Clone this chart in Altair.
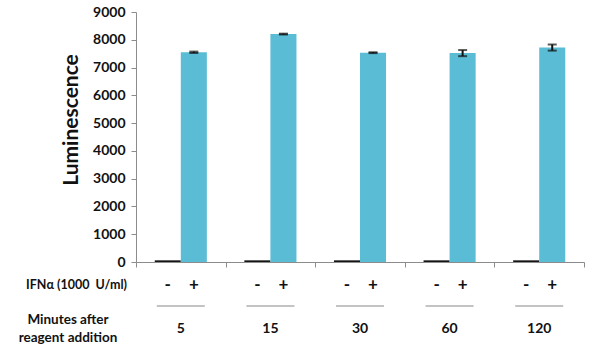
import altair as alt
import pandas as pd

minutes = ["5", "15", "30", "60", "120"]
treatments = ["-", "+"]
minus_vals = [60, 60, 60, 60, 60]
plus_vals = [7550, 8205, 7535, 7520, 7720]
plus_err = [25, 15, 15, 110, 110]
y_ticks = [0, 1000, 2000, 3000, 4000, 5000, 6000, 7000, 8000, 9000]

rows = []
for i, m in enumerate(minutes):
    rows.append({"minutes": m, "trt": "-", "value": minus_vals[i], "err": 0})
    rows.append({"minutes": m, "trt": "+", "value": plus_vals[i], "err": plus_err[i]})
df = pd.DataFrame(rows)
df["lo"] = df["value"] - df["err"]
df["hi"] = df["value"] + df["err"]
err_df = df[df["trt"] == "+"]
grp_df = pd.DataFrame({"minutes": minutes})

FONT = "Lato"

x_axis = alt.Axis(labels=False, title=None, tickBand="extent", tickSize=5,
                  domainColor="#8c8c8c", tickColor="#8c8c8c")
y_axis = alt.Axis(values=y_ticks, format="d", labelOverlap=False, title=None,
                  grid=False, tickSize=5, tickCount=10,
                  labelFont=FONT, labelFontWeight="bold", labelFontSize=14,
                  labelColor="#111", labelPadding=6,
                  domainColor="#8c8c8c", tickColor="#8c8c8c")
x_scale = alt.Scale(paddingInner=0, paddingOuter=0)
y_scale = alt.Scale(domain=[0, 9000], nice=False)


def xe():
    return alt.X("minutes:N", sort=minutes, scale=x_scale, axis=x_axis)


xo_enc = alt.XOffset("trt:N", sort=treatments,
                     scale=alt.Scale(domain=treatments, paddingInner=0, paddingOuter=0.72))

bars = alt.Chart(df).mark_bar().encode(
    x=xe(),
    xOffset=xo_enc,
    y=alt.Y("value:Q", scale=y_scale, axis=y_axis),
    color=alt.Color("trt:N", scale=alt.Scale(domain=treatments, range=["#151515", "#5bbdd5"]),
                    legend=None),
)

err_rule = alt.Chart(err_df).mark_rule(color="#111", strokeWidth=2).encode(
    x=xe(), xOffset=xo_enc,
    y=alt.Y("lo:Q", scale=y_scale, axis=y_axis), y2="hi:Q")
cap_lo = alt.Chart(err_df).mark_tick(color="#111", size=9, thickness=2).encode(
    x=xe(), xOffset=xo_enc, y=alt.Y("lo:Q", scale=y_scale, axis=y_axis))
cap_hi = alt.Chart(err_df).mark_tick(color="#111", size=9, thickness=2).encode(
    x=xe(), xOffset=xo_enc, y=alt.Y("hi:Q", scale=y_scale, axis=y_axis))

signs = alt.Chart(df).mark_text(font=FONT, fontWeight="bold", fontSize=17, color="#111",
                                baseline="middle").encode(
    x=xe(), xOffset=xo_enc, y=alt.value(273), text="trt:N")

lines = alt.Chart(grp_df).mark_tick(orient="horizontal", size=48, thickness=1,
                                    color="#555").encode(
    x=xe(), y=alt.value(294))

nums = alt.Chart(grp_df).mark_text(font=FONT, fontWeight="bold", fontSize=14, color="#111",
                                   baseline="middle").encode(
    x=xe(), y=alt.value(317), text="minutes:N")

ytitle = alt.Chart(pd.DataFrame({"t": ["Luminescence"]})).mark_text(
    font=FONT, fontWeight="bold", fontSize=21, angle=270, color="#111",
    baseline="middle", align="center").encode(
    x=alt.value(-64), y=alt.value(108), text="t:N")

ifn = alt.Chart(pd.DataFrame({"t": ["IFNα (1000\u00a0 U/ml)"]})).mark_text(
    font=FONT, fontWeight="bold", fontSize=12.5, color="#111",
    baseline="middle", align="right").encode(
    x=alt.value(-9), y=alt.value(273), text="t:N")

minlab = alt.Chart(pd.DataFrame({"t": ["Minutes after", "reagent addition"],
                                 "yy": [308, 326]})).mark_text(
    font=FONT, fontWeight="bold", fontSize=13.5, color="#111",
    baseline="middle", align="center").encode(
    x=alt.value(-68), y=alt.Y("yy:Q", scale=None), text="t:N")

chart = alt.layer(bars, err_rule, cap_lo, cap_hi, signs, lines, nums, ytitle, ifn, minlab).properties(
    width=448, height=250,
    padding={"left": 136, "top": 12, "right": 16, "bottom": 98},
    autosize=alt.AutoSizeParams(type="none"),
).configure_view(stroke=None)

chart.save("out.html", embed_options={"renderer": "svg", "actions": False})
